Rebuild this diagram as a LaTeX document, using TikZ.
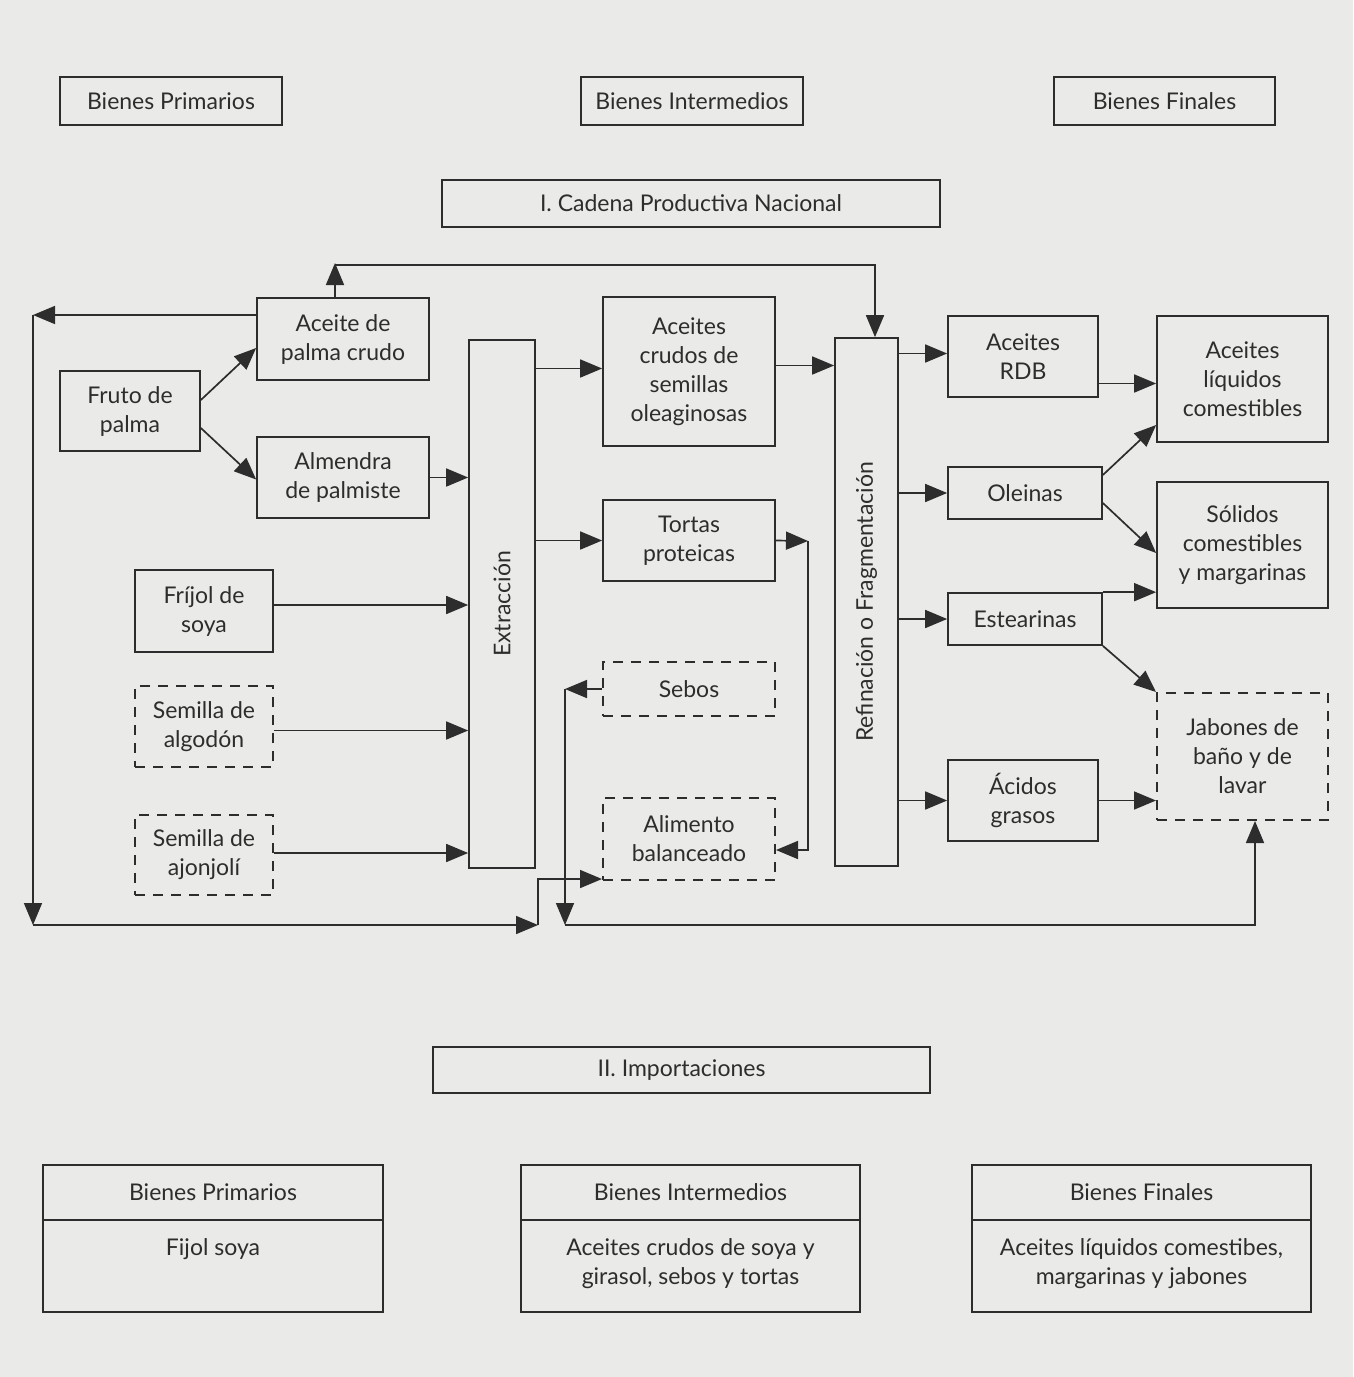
\documentclass[tikz,border=0pt]{standalone}
\usepackage{fontspec}
\setmainfont{Lato}
\usetikzlibrary{arrows.meta,calc}
\definecolor{bg}{RGB}{234,234,232}
\definecolor{ink}{RGB}{45,45,45}
\begin{document}
\begin{tikzpicture}[x=1pt,y=-1pt,
  box/.style={draw=ink, line width=1.7pt, fill=bg, text=ink, align=center, inner sep=1pt, font=\fontsize{23}{29}\selectfont},
  dbox/.style={box, line width=2pt, dash pattern=on 10pt off 8pt},
  txt/.style={text=ink, align=center, inner sep=0pt, font=\fontsize{23}{29}\selectfont},
  arr/.style={draw=ink, line width=1.7pt, -{Triangle[length=22pt,width=18pt]}},
  ln/.style={draw=ink, line width=1.7pt}]
\fill[bg] (0,0) rectangle (1353,1377);
\useasboundingbox (0,0) rectangle (1353,1377);

% headers
\node[box, minimum width=222, minimum height=48] (bp) at (171,101) {Bienes Primarios};
\node[box, minimum width=222, minimum height=48] (bi) at (692,101) {Bienes Intermedios};
\node[box, minimum width=221, minimum height=48] (bf) at (1164.5,101) {Bienes Finales};
\node[box, minimum width=498, minimum height=47] (cad) at (691,203.5) {I. Cadena Productiva Nacional};

% primary
\node[box, minimum width=172, minimum height=82] (palma) at (343,339) {Aceite de\\palma crudo};
\node[box, minimum width=140, minimum height=80] (fruto) at (130,411) {Fruto de\\palma};
\node[box, minimum width=172, minimum height=81] (alm) at (343,477.5) {Almendra\\de palmiste};
\node[box, minimum width=138, minimum height=82] (fri) at (204,611) {Fríjol de\\soya};
\node[dbox, minimum width=138, minimum height=81] (alg) at (204,726.5) {Semilla de\\algodón};
\node[dbox, minimum width=138, minimum height=80] (ajo) at (204,855) {Semilla de\\ajonjolí};

% extraction
\node[box, minimum width=66, minimum height=528] (extr) at (502,604) {};
\node[txt, rotate=90] (extrt) at (extr.center) {Extracción};

% intermediate
\node[box, minimum width=172, minimum height=149] (crudos) at (689,371.5) {Aceites\\crudos de\\semillas\\oleaginosas};
\node[box, minimum width=172, minimum height=81] (tortas) at (689,540.5) {Tortas\\proteicas};
\node[dbox, minimum width=172, minimum height=54] (sebos) at (689,689) {Sebos};
\node[dbox, minimum width=172, minimum height=82] (alim) at (689,839) {Alimento\\balanceado};

% refining
\node[box, minimum width=63, minimum height=528] (refin) at (866.5,602) {};
\node[txt, rotate=90] (refint) at (refin.center) {Refinación o Fragmentación};

% right
\node[box, minimum width=150, minimum height=81] (rdb) at (1023,356.5) {Aceites\\RDB};
\node[box, minimum width=154, minimum height=52] (ole) at (1025,493) {Oleinas};
\node[box, minimum width=154, minimum height=52] (est) at (1025,619) {Estearinas};
\node[box, minimum width=150, minimum height=81] (acid) at (1023,800.5) {Ácidos\\grasos};
\node[box, minimum width=171, minimum height=126] (liq) at (1242.5,379) {Aceites\\líquidos\\comestibles};
\node[box, minimum width=171, minimum height=126] (sol) at (1242.5,545) {Sólidos\\comestibles\\y margarinas};
\node[dbox, minimum width=171, minimum height=127] (jab) at (1242.5,756.5) {Jabones de\\baño y de\\lavar};

% imports
\node[box, minimum width=497, minimum height=46] (imp) at (681.5,1070) {II. Importaciones};
\node[box, minimum width=340, minimum height=55] (b1h) at (213,1192.5) {Bienes Primarios};
\node[box, minimum width=340, minimum height=92] (b1b) at (213,1266) {};
\node[txt] (b1t) at (213,1249) {Fijol soya};
\node[box, minimum width=339, minimum height=55] (b2h) at (690.5,1192.5) {Bienes Intermedios};
\node[box, minimum width=339, minimum height=92] (b2b) at (690.5,1266) {};
\node[txt] (b2t) at (690.5,1263.5) {Aceites crudos de soya y\\girasol, sebos y tortas};
\node[box, minimum width=339, minimum height=55] (b3h) at (1141.5,1192.5) {Bienes Finales};
\node[box, minimum width=339, minimum height=92] (b3b) at (1141.5,1266) {};
\node[txt] (b3t) at (1141.5,1263.5) {Aceites líquidos comestibes,\\margarinas y jabones};

% coordinates
\coordinate (tl) at (335,263);
\coordinate (tr) at (875,265);
\coordinate (ltop) at (33,315);
\coordinate (lbot) at (33,925);
\coordinate (m1) at (538,925);
\coordinate (m2) at (538,879);
\coordinate (sl) at (565,689);
\coordinate (sb) at (565,925);
\coordinate (jb) at (1255,925);
\coordinate (tr2) at (808,541);
\coordinate (tb) at (808,850);
\path ([yshift=6pt]fri.east) coordinate (frie);
\path ([yshift=-4pt]alg.east) coordinate (alge);
\path ([yshift=2pt]ajo.east) coordinate (ajoe);
\path ([yshift=3pt]crudos.west) coordinate (cruw);
\path ([yshift=6pt]crudos.east) coordinate (crue);
\path ([yshift=3pt]rdb.west) coordinate (rdbw);
\path ([yshift=-27pt]rdb.east) coordinate (rdbe);

% top loop
\draw[arr] (palma.north -| tl) -- (tl);
\draw[arr] (tl |- tr) -- (tr) -- (refin.north -| tr);
% left loop
\draw[arr] (palma.west |- ltop) -- (ltop);
\draw[arr] (ltop) -- (lbot);
\draw[arr] (lbot) -- (m1);
\draw[arr] (m1) -- (m2) -- (alim.west |- m2);
% sebos loop
\draw[arr] (sebos.west) -- (sl);
\draw[arr] (sl) -- (sb);
\draw[arr] (sb) -- (jb) -- (jab.south -| jb);
% tortas
\draw[arr] (tortas.east) -- (tr2);
\draw[arr] (tr2) -- (tb) -- (alim.east |- tb);

% fruto
\draw[arr] ([yshift=11pt]fruto.east) -- ([yshift=-9pt]palma.west);
\draw[arr] ([yshift=-17pt]fruto.east) -- ([yshift=-2pt]alm.west);
% into extraction
\draw[arr] (alm.east) -- (extr.west |- alm.east);
\draw[arr] (frie) -- (extr.west |- frie);
\draw[arr] (alge) -- (extr.west |- alge);
\draw[arr] (ajoe) -- (extr.west |- ajoe);
% out of extraction
\draw[arr] (extr.east |- cruw) -- (cruw);
\draw[arr] (extr.east |- tortas.west) -- (tortas.west);
\draw[arr] (crue) -- (refin.west |- crue);
% out of refining
\draw[arr] (refin.east |- rdbw) -- (rdbw);
\draw[arr] (refin.east |- ole.west) -- (ole.west);
\draw[arr] (refin.east |- est.west) -- (est.west);
\draw[arr] (refin.east |- acid.west) -- (acid.west);
% finals
\draw[arr] (rdbe) -- (liq.west |- rdbe);
\draw[arr] ([yshift=18pt]ole.east) -- ([yshift=-46pt]liq.west);
\draw[arr] ([yshift=-10pt]ole.east) -- ([yshift=-8pt]sol.west);
\draw[arr] (est.north east) -- (est.north east -| sol.west);
\draw[arr] (est.south east) -- (jab.north west);
\draw[arr] (acid.east) -- (acid.east -| jab.west);
\end{tikzpicture}
\end{document}
